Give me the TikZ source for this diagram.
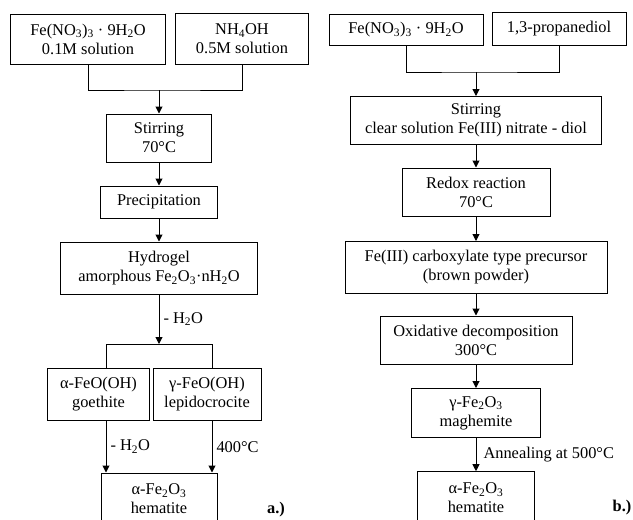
\documentclass[tikz,border=0pt]{standalone}
\usepackage{fontspec}
\setmainfont{Liberation Serif}
\usetikzlibrary{arrows.meta}

\begin{document}
\begin{tikzpicture}[x=1pt,y=-1pt,
  box/.style={draw=black,line width=1pt,align=center,inner sep=2pt,font=\fontsize{16.4}{19}\selectfont},
  ln/.style={draw=black,line width=1pt},
  arr/.style={ln,-{Triangle[length=7pt,width=7pt]}},
  lab/.style={font=\fontsize{16.4}{19}\selectfont,inner sep=4pt},
  tag/.style={font=\fontsize{16.4}{19}\selectfont\bfseries,inner sep=0pt}]
  \clip (0,0) rectangle (633,520);
  % ---------- a.) precipitation route ----------
  \begin{scope}
    \node[box,minimum width=155pt,minimum height=50pt] (feA) at (88,39) {Fe(NO\textsubscript{3})\textsubscript{3} · 9H\textsubscript{2}O\\0.1M solution};
    \node[box,minimum width=133pt,minimum height=51pt] (nh) at (242,39) {NH\textsubscript{4}OH\\0.5M solution};
    \node[box,minimum width=105pt,minimum height=48pt] (stirA) at (159,138) {Stirring\\70°C};
    \node[box,minimum width=117pt,minimum height=32pt] (prec) at (159,202) {Precipitation};
    \node[box,minimum width=197pt,minimum height=52pt] (hydro) at (159,268) {Hydrogel\\amorphous Fe\textsubscript{2}O\textsubscript{3}·nH\textsubscript{2}O};
    \node[box,minimum width=102pt,minimum height=52pt] (goe) at (98.5,394.5) {α-FeO(OH)\\goethite};
    \node[box,minimum width=108pt,minimum height=52pt] (lepi) at (207,394.5) {γ-FeO(OH)\\lepidocrocite};
    \node[box,minimum width=116pt,minimum height=52pt] (hemA) at (159,499) {α-Fe\textsubscript{2}O\textsubscript{3}\\hematite};
    \coordinate (ja) at (159,90);
    \coordinate (jb) at (159,344);
    \coordinate (ca) at (106,344);
    \coordinate (cb) at (212,344);
    \draw[ln] (feA.south) |- (ja) -| (nh.south);
    \draw[arr] (ja) -- (stirA.north);
    \draw[arr] (stirA) -- (prec);
    \draw[arr] (prec) -- (hydro);
    \draw[arr] (hydro.south) -- node[lab,right] {- H\textsubscript{2}O} (jb);
    \draw[ln] (ca |- goe.north) -- (ca) -- (cb) -- (cb |- lepi.north);
    \draw[arr] (ca |- goe.south) -- node[lab,right] {- H\textsubscript{2}O} (ca |- hemA.north);
    \draw[arr] (cb |- lepi.south) -- node[lab,right] {400°C} (cb |- hemA.north);
    \node[tag] (tagA) at (276,510) {a.)};
  \end{scope}
  % ---------- b.) diol route ----------
  \begin{scope}
    \node[box,minimum width=154pt,minimum height=31pt] (feB) at (406,30) {Fe(NO\textsubscript{3})\textsubscript{3} · 9H\textsubscript{2}O};
    \node[box,minimum width=134pt,minimum height=33pt] (prop) at (559,29) {1,3-propanediol};
    \node[box,minimum width=251pt,minimum height=48pt] (stirB) at (476,120.5) {Stirring\\clear solution Fe(III) nitrate - diol};
    \node[box,minimum width=148pt,minimum height=48pt] (redox) at (476,192) {Redox reaction\\70°C};
    \node[box,minimum width=262pt,minimum height=52pt] (carbo) at (476,267.5) {Fe(III) carboxylate type precursor\\(brown powder)};
    \node[box,minimum width=192pt,minimum height=48pt] (oxid) at (476,340) {Oxidative decomposition\\300°C};
    \node[box,minimum width=129pt,minimum height=49pt] (magh) at (476,413) {γ-Fe\textsubscript{2}O\textsubscript{3}\\maghemite};
    \node[box,minimum width=117pt,minimum height=52pt] (hemB) at (476,497.7) {α-Fe\textsubscript{2}O\textsubscript{3}\\hematite};
    \coordinate (jc) at (476,72);
    \draw[ln] (feB.south) |- (jc) -| (prop.south);
    \draw[arr] (jc) -- (stirB.north);
    \foreach \a/\b in {stirB/redox,redox/carbo,carbo/oxid,oxid/magh}
      \draw[arr] (\a.south) -- (\b.north);
    \draw[arr] (magh.south) -- node[lab,right,xshift=3pt] {Annealing at 500°C} (hemB.north);
    \node[tag] (tagB) at (622,508) {b.)};
  \end{scope}
\end{tikzpicture}
\end{document}
